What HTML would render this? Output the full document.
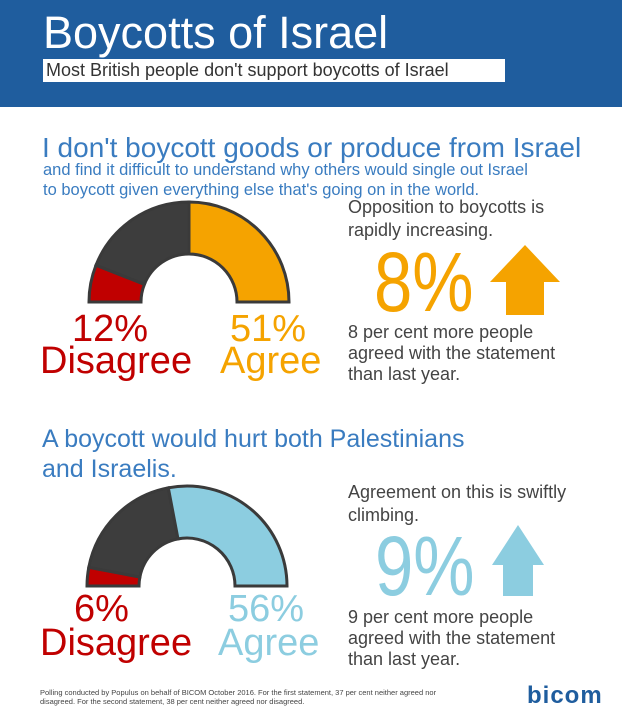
<!DOCTYPE html>
<html><head><meta charset="utf-8"><style>
body{margin:0;width:622px;height:720px;background:#fff;position:relative;overflow:hidden;font-family:"Liberation Sans",sans-serif}
.t{position:absolute;white-space:nowrap;line-height:1}
</style></head><body>
<div style="position:absolute;left:0;top:0;width:622px;height:107px;background:#1f5d9e"></div>
<div class="t" style="left:43px;top:10px;font-size:45px;color:#fff">Boycotts of Israel</div>
<div style="position:absolute;left:43px;top:59px;width:462px;height:23px;background:#fff"></div>
<div class="t" style="left:46px;top:61px;font-size:18px;color:#333">Most British people don't support boycotts of Israel</div>
<div class="t" style="left:42px;top:134px;font-size:28px;color:#3a7cc0">I don't boycott goods or produce from Israel</div>
<div class="t" style="left:43px;top:160px;font-size:16.5px;color:#3a7cc0;line-height:20px">and find it difficult to understand why others would single out Israel<br>to boycott given everything else that's going on in the world.</div>
<svg width="622" height="720" style="position:absolute;left:0;top:0" id="s"></svg>
<div class="t" style="left:348px;top:196px;font-size:18px;color:#444;line-height:23px">Opposition to boycotts is<br>rapidly increasing.</div>
<div class="t" style="left:374px;top:240px;font-size:84px;color:#f5a300;transform:scaleX(0.82);transform-origin:left top">8%</div>
<div class="t" style="left:348px;top:322px;font-size:18px;color:#444;line-height:21px">8 per cent more people<br>agreed with the statement<br>than last year.</div>
<div class="t" style="left:72px;top:310px;font-size:38px;color:#c00000">12%</div>
<div class="t" style="left:40px;top:342px;font-size:38px;color:#c00000">Disagree</div>
<div class="t" style="left:230px;top:310px;font-size:38px;color:#f5a300">51%</div>
<div class="t" style="left:220px;top:342px;font-size:38px;color:#f5a300">Agree</div>
<div class="t" style="left:42px;top:424px;font-size:25px;color:#3a7cc0;line-height:30px">A boycott would hurt both Palestinians<br>and Israelis.</div>
<div class="t" style="left:348px;top:481px;font-size:18px;color:#444;line-height:23px">Agreement on this is swiftly<br>climbing.</div>
<div class="t" style="left:375px;top:524px;font-size:84px;color:#8ccde0;transform:scaleX(0.82);transform-origin:left top">9%</div>
<div class="t" style="left:348px;top:607px;font-size:18px;color:#444;line-height:21px">9 per cent more people<br>agreed with the statement<br>than last year.</div>
<div class="t" style="left:74px;top:590px;font-size:38px;color:#c00000">6%</div>
<div class="t" style="left:40px;top:624px;font-size:38px;color:#c00000">Disagree</div>
<div class="t" style="left:228px;top:590px;font-size:38px;color:#8ccde0">56%</div>
<div class="t" style="left:218px;top:624px;font-size:38px;color:#8ccde0">Agree</div>
<div class="t" style="left:40px;top:688px;font-size:7.5px;color:#444;line-height:9px">Polling conducted by Populus on behalf of BICOM October 2016. For the first statement, 37 per cent neither agreed nor<br>disagreed. For the second statement, 38 per cent neither agreed nor disagreed.</div>
<div class="t" style="left:527px;top:684px;font-size:24px;color:#1f5d9e;font-weight:bold;letter-spacing:1px">bicom</div>
<script>
var s=document.getElementById('s'),h='';
function seg(cx,cy,R,r,a1,a2,c){var p=Math.PI/180;function P(rr,a){return (cx+rr*Math.cos(a*p)).toFixed(1)+','+(cy-rr*Math.sin(a*p)).toFixed(1)}
h+='<path d="M'+P(R,a1)+' A'+R+','+R+' 0 0 1 '+P(R,a2)+' L'+P(r,a2)+' A'+r+','+r+' 0 0 0 '+P(r,a1)+'Z" fill="'+c+'" stroke="#3a3a3a" stroke-width="3"/>';}
function g(cx,cy,R,r,d,a,col){seg(cx,cy,R,r,180,180-d*1.8,'#c00000');seg(cx,cy,R,r,180-d*1.8,a*1.8,'#3d3d3d');seg(cx,cy,R,r,a*1.8,0,col);}
g(189,302,100,48,12,50,'#f5a300');
g(187,586,100,48,6,56,'#8ccde0');
h+='<polygon points="525,245 560,282 544,282 544,315 506,315 506,282 490,282" fill="#f5a300"/>';
h+='<polygon points="518,525 544,565 533,565 533,596 503,596 503,565 492,565" fill="#8ccde0"/>';
s.innerHTML=h;
</script>
</body></html>
